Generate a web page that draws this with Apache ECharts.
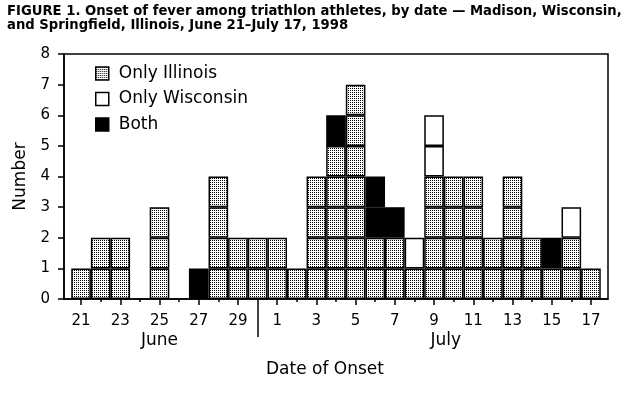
<!DOCTYPE html>
<html>
<head>
<meta charset="utf-8">
<title>Onset of fever among triathlon athletes</title>
<script src="https://cdn.jsdelivr.net/npm/echarts@6/dist/echarts.min.js"></script>
<style>
html, body { margin: 0; padding: 0; background: #fff; }
#chart { width: 635px; height: 396px; }
</style>
</head>
<body>
<div id="chart"></div>
<script>
// dates of onset, June 21 - July 17 (index 0 = June 21)
var dayLabels = ['21', '22', '23', '24', '25', '26', '27', '28', '29', '30',
    '1', '2', '3', '4', '5', '6', '7', '8', '9', '10', '11', '12', '13', '14', '15', '16', '17'];
// number of cases per day
var illinois = [1, 2, 2, 0, 3, 0, 0, 4, 2, 2, 2, 1, 4, 5, 7, 2, 2, 1, 4, 4, 4, 2, 4, 2, 1, 2, 1];
var both = [0, 0, 0, 0, 0, 0, 1, 0, 0, 0, 0, 0, 0, 1, 0, 2, 1, 0, 0, 0, 0, 0, 0, 0, 1, 0, 0];
var wisconsin = [0, 0, 0, 0, 0, 0, 0, 0, 0, 0, 0, 0, 0, 0, 0, 0, 0, 1, 2, 0, 0, 0, 0, 0, 0, 1, 0];
// labelled days (every other day), month labels and the month break
var majorDays = [0, 2, 4, 6, 8, 10, 12, 14, 16, 18, 20, 22, 24, 26];
var minorDays = [1, 3, 5, 7, 11, 13, 15, 17, 19, 21, 23, 25];
var monthBreak = [9];
var monthNames = ['June', 'July'];
var monthCenters = [4, 18.6];

var font = 'DejaVu Sans, Verdana, sans-serif';

//stippled fill for Illinois cases
var dots = document.createElement('canvas');
dots.width = 2;
dots.height = 2;
var dctx = dots.getContext('2d');
dctx.fillStyle = '#fff';
dctx.fillRect(0, 0, 2, 2);
dctx.fillStyle = '#000';
dctx.fillRect(0, 0, 1, 1);

//one stacked layer per case, so each case is its own box
//value goes first so the stack runs on y, day index is the x
function unitLayers(name, counts, color) {
    var max = Math.max.apply(null, counts);
    var out = [];
    for (var j = 0; j < max; j++) {
        out.push({
            name: name,
            type: 'bar',
            stack: 'cases',
            barWidth: '100%',
            xAxisIndex: 0,
            encode: { x: 1, y: 0 },
            emphasis: { disabled: true },
            itemStyle: { color: color, borderColor: '#000', borderWidth: 1.5 },
            data: counts.map(function (c, i) {
                return [c > j ? 1 : '-', i];
            })
        });
    }
    return out;
}

var series = [].concat(
    unitLayers('Only Illinois', illinois, { image: dots, repeat: 'repeat' }),
    unitLayers('Both', both, '#000'),
    unitLayers('Only Wisconsin', wisconsin, '#fff')
);

function dayAxis(extra) {
    var a = {
        type: 'value',
        gridIndex: 0,
        position: 'bottom',
        min: -0.87,
        max: 26.87,
        splitLine: { show: false },
        axisLine: { show: false },
        axisTick: { show: false },
        axisLabel: { show: false }
    };
    for (var k in extra) a[k] = extra[k];
    return a;
}

var chart = echarts.init(document.getElementById('chart'), null, { renderer: 'canvas' });
var option = {
    animation: false,
    title: {
        text: 'FIGURE 1. Onset of fever among triathlon athletes, by date \u2014 Madison, Wisconsin,\nand Springfield, Illinois, June 21\u2013July 17, 1998',
        left: 2,
        top: 0,
        textStyle: { fontFamily: font, fontSize: 13.2, fontWeight: 'bold', lineHeight: 14, color: '#000' }
    },
    legend: {
        orient: 'vertical',
        left: 90,
        top: 60,
        icon: 'rect',
        itemWidth: 13,
        itemHeight: 13,
        itemGap: 8.5,
        selectedMode: false,
        data: ['Only Illinois', 'Only Wisconsin', 'Both'],
        itemStyle: { borderColor: '#000', borderWidth: 1.5 },
        textStyle: { fontFamily: font, fontSize: 17, color: '#000', padding: [0, 0, 0, 5] }
    },
    grid: {
        left: 64,
        right: 27,
        top: 54,
        bottom: 97,
        show: true,
        borderColor: '#000',
        borderWidth: 1.5
    },
    xAxis: [
        dayAxis({
            axisLine: { show: true, lineStyle: { color: '#000', width: 1.5 } },
            axisTick: { show: true, length: 6, customValues: majorDays, lineStyle: { color: '#000', width: 1.5 } },
            axisLabel: {
                show: true, customValues: majorDays, margin: 15,
                fontFamily: font, fontSize: 15, color: '#000',
                formatter: function (v) { return dayLabels[Math.round(v)]; }
            }
        }),
        dayAxis({
            axisTick: { show: true, length: 3, customValues: minorDays, lineStyle: { color: '#000', width: 1.5 } }
        }),
        dayAxis({
            axisTick: { show: true, length: 38, customValues: monthBreak, lineStyle: { color: '#000', width: 1.5 } }
        }),
        dayAxis({
            axisLabel: {
                show: true, customValues: monthCenters, margin: 33,
                fontFamily: font, fontSize: 17, color: '#000',
                formatter: function (v) { return monthNames[monthCenters.indexOf(v)]; }
            }
        })
    ],
    yAxis: {
        type: 'value',
        min: 0,
        max: 8,
        interval: 1,
        name: 'Number',
        nameLocation: 'middle',
        nameGap: 33,
        nameTextStyle: { fontFamily: font, fontSize: 17, color: '#000' },
        splitLine: { show: false },
        axisLine: { show: true, onZero: false, lineStyle: { color: '#000', width: 1.5 } },
        axisTick: { show: true, length: 6, lineStyle: { color: '#000', width: 1.5 } },
        axisLabel: { margin: 14, fontFamily: font, fontSize: 15, color: '#000' }
    },
    graphic: [{
        type: 'text',
        left: 266,
        top: 361,
        style: { text: 'Date of Onset', fontFamily: font, fontSize: 17, fill: '#000' }
    }],
    series: series
};
chart.setOption(option);
</script>
</body>
</html>
